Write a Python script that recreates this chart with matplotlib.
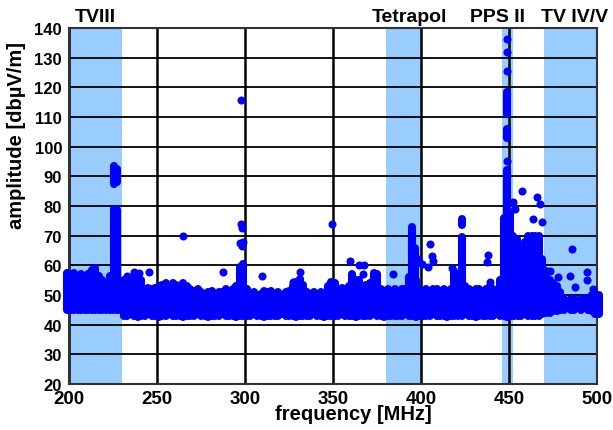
import matplotlib
matplotlib.use('Agg')
import matplotlib.pyplot as plt

plt.rcParams['font.family'] = ['Liberation Sans', 'DejaVu Sans']
plt.rcParams['font.weight'] = 'bold'

# frequency bands (MHz)
band_names = ['TVIII', 'Tetrapol', 'PPS II', 'TV IV/V']
band_lo = [200, 380, 446, 470]
band_hi = [230, 400, 452, 500]
band_text_x = [203, 372, 428, 468]

# dense noise floor, sampled every 2 MHz: lower / upper envelope
base_freq = [199, 201, 203, 205, 207, 209, 211, 213, 215, 217, 219, 221, 223, 225, 227, 229,
             231, 233, 235, 237, 239, 241, 243, 245, 247, 249, 251, 253, 255, 257, 259, 261,
             263, 265, 267, 269, 271, 273, 275, 277, 279, 281, 283, 285, 287, 289, 291, 293,
             295, 297, 299, 301, 303, 305, 307, 309, 311, 313, 315, 317, 319, 321, 323, 325,
             327, 329, 331, 333, 335, 337, 339, 341, 343, 345, 347, 349, 351, 353, 355, 357,
             359, 361, 363, 365, 367, 369, 371, 373, 375, 377, 379, 381, 383, 385, 387, 389,
             391, 393, 395, 397, 399, 401, 403, 405, 407, 409, 411, 413, 415, 417, 419, 421,
             423, 425, 427, 429, 431, 433, 435, 437, 439, 441, 443, 445, 447, 449, 451, 453,
             455, 457, 459, 461, 463, 465, 467, 469, 471, 473, 475, 477, 479, 481, 483, 485,
             487, 489, 491, 493, 495, 497, 499, 501]
base_hi = [57.5, 57, 57.5, 56.5, 57, 56, 57, 58.5, 59, 56.5, 55, 53.5, 56.5, 56, 56, 54.5,
           55, 54, 54.5, 56.5, 56.5, 55, 52, 52.5, 52, 52.5, 53, 53.5, 54, 53, 54, 53.5,
           53, 54, 53, 52, 51.5, 52, 51, 50.5, 51, 51.5, 50.5, 51, 51, 52, 51, 52,
           53, 53.5, 53, 52, 50.5, 51, 50, 50.5, 51.5, 51, 51.5, 50.5, 51, 50, 51, 51.5,
           53, 54.5, 55.5, 53.5, 51, 50.5, 51, 50.5, 51, 50.5, 53, 54.5, 54, 52, 52.5, 52,
           53, 57, 55, 55, 53, 53.5, 54, 57.5, 57, 52, 51.5, 52, 51.5, 52, 51.5, 52,
           52, 56, 56.5, 55, 52, 51.5, 52, 51.5, 52, 52, 51.5, 52, 51.5, 52, 58, 56,
           54, 53, 52, 51.5, 52, 52, 51.5, 52, 53, 52, 51.5, 55, 58, 58, 57, 56,
           58, 63, 68, 70, 70, 70, 70, 62, 58, 55, 54, 53, 51, 48.5, 48, 48.5,
           49, 48, 48.5, 49, 48.5, 50, 50.5, 50]
base_lo = [45, 45, 45, 45, 45, 45, 45, 45, 45, 45, 45, 45, 45, 45, 45, 45,
           43, 43, 43.5, 43, 42.5, 43, 43, 43.5, 43, 43, 42.5, 43, 43, 43.5, 43, 43,
           43, 42.5, 43, 43, 43, 43.5, 43, 43, 42.5, 43, 43, 43, 43.5, 43, 43, 43,
           42.5, 43, 43, 43, 43, 43.5, 43, 43, 42.5, 43, 43, 43, 43, 43.5, 43, 43,
           43, 42.5, 43, 43, 43, 43, 43.5, 43, 43, 42.5, 43, 43, 43, 43, 43.5, 43,
           43, 43, 42.5, 43, 43, 43, 43, 43.5, 43, 43, 42.5, 43, 43, 43, 43, 43,
           43.5, 43, 43, 42.5, 43, 43, 43, 43, 43.5, 43, 43, 43, 42.5, 43, 43, 43,
           43, 43.5, 43, 43, 42.5, 43, 43, 43, 43, 43, 43.5, 43, 43, 42.5, 43, 43,
           43, 43, 43.5, 43, 43, 43, 43, 43.5, 44, 44, 44.5, 44.5, 45, 45, 45.5, 45,
           45, 45.5, 45, 45.5, 45, 44.5, 43.5, 43.5]

# continuous vertical runs of points (spikes)
spike_freq = [225.5, 227, 225.5, 227, 297, 299, 395, 396.5, 423, 423.5, 448.7, 448.7, 448.7,
              447, 450.5, 452.5, 454.5]
spike_lo = [55, 55, 87.5, 88, 53, 53, 54, 54, 54, 73.5, 55, 103, 111, 54, 54, 54, 54]
spike_hi = [79, 78.5, 93.5, 92.5, 59.5, 60.5, 73, 66, 69.5, 75.5, 92.3, 106, 118.5,
            76, 78, 70, 69]

# single points standing out of the floor
pt_freq = [297.7, 297.5, 298, 297, 298.5, 299, 265, 287.3, 309.6, 331, 327, 349.3,
           359.7, 365, 367, 384, 237, 239.5, 245.5, 233, 398, 400.5, 404, 405.2, 406.5,
           407, 438, 437.3, 439, 448.7, 448.7, 448.7, 448.7, 457.2, 452.3, 453.4, 465.7,
           467.6, 463.6, 468.8, 473.3, 478, 484.7, 486, 487.5, 494, 494, 497.5, 417.5, 367.5]
pt_amp = [115.7, 73.8, 72.5, 67.5, 66.5, 68, 70, 57.8, 56.5, 57.8, 54.5, 73.8,
          61.5, 60, 57, 57, 57.8, 57.5, 57.8, 56.5, 62, 60.5, 59.5, 67.3, 63,
          61.5, 63.5, 61, 54.5, 136.3, 131.8, 125.6, 95.3, 85.2, 81.4, 79, 83,
          80.7, 75.6, 74.6, 58.2, 56, 56.5, 65.5, 52.7, 57.8, 55, 52, 59, 60]

blue = '#0000ff'
dot_lw = 5.8   # points, same as the dot diameter

fig, ax = plt.subplots(figsize=(6.13, 4.31), dpi=100)
fig.subplots_adjust(left=0.1126, right=0.974, bottom=0.1067, top=0.9327)

for lo, hi in zip(band_lo, band_hi):
    ax.axvspan(lo, hi, color='#99ccff', lw=0, zorder=0)

floor = ax.vlines(base_freq, base_lo, base_hi, colors=blue, lw=dot_lw, zorder=3)
floor.set_capstyle('round')
floor.set_clip_on(False)
sp = ax.vlines(spike_freq, spike_lo, spike_hi, colors=blue, lw=dot_lw, zorder=3)
sp.set_capstyle('round')
ax.scatter(pt_freq, pt_amp, s=dot_lw ** 2, color=blue, lw=0, zorder=3)

ax.set_xlim(200, 500)
ax.set_ylim(20, 140)
ax.set_xticks(range(200, 501, 50))
ax.set_yticks(range(20, 141, 10))
ax.tick_params(axis='x', length=0, labelsize=13.5, pad=4)
ax.tick_params(axis='y', length=0, labelsize=12, pad=5)
ax.grid(axis='y', color='black', lw=1.3)
ax.grid(axis='x', color='black', lw=1.8)
ax.set_axisbelow(True)
for s in ax.spines.values():
    s.set_color('#333333')
    s.set_linewidth(1.5)

for name, x in zip(band_names, band_text_x):
    ax.text(x, 1.02, name, transform=ax.get_xaxis_transform(), fontsize=14,
            fontweight='bold', ha='left', va='baseline')

ax.set_xlabel('frequency [MHz]', fontsize=14.5, fontweight='bold')
ax.set_ylabel('amplitude [dbµV/m]', fontsize=14.5, fontweight='bold')
ax.xaxis.set_label_coords(0.539, -0.056)
ax.yaxis.set_label_coords(-0.081, 0.70)

plt.savefig('out.png', dpi=100)
